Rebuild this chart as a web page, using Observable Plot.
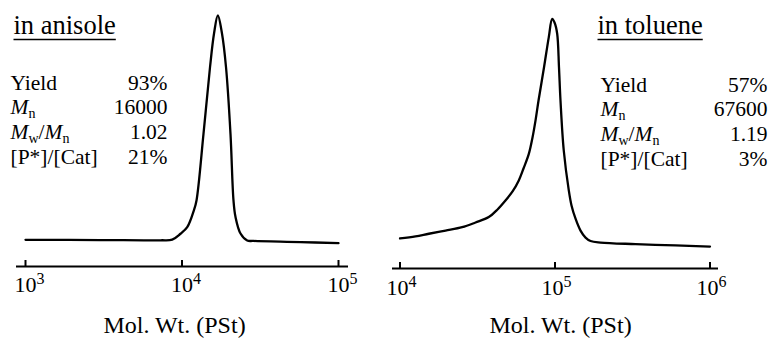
<!DOCTYPE html>
<html><head><meta charset="utf-8">
<script src="https://cdn.jsdelivr.net/npm/d3@7"></script>
<script src="https://cdn.jsdelivr.net/npm/@observablehq/plot@0.6"></script>
<style>
body{margin:0;background:#fff;}
#wrap{display:flex;width:770px;height:339px;overflow:hidden;}
svg{display:block;}
</style></head><body><div id="wrap"></div>
<script>
// ---- data ----
const anisoleMolWt = [1000, 3000, 7300, 8660, 9780, 10800, 11900, 12380, 13720, 15100, 16020, 16940, 18010, 19110, 20410, 21330, 21980, 23650, 26100, 28630, 57150, 100000];
const anisoleSignal = [0.003, 0.002, 0.001, 0.004, 0.030, 0.059, 0.133, 0.178, 0.474, 0.770, 0.920, 1.000, 0.920, 0.770, 0.474, 0.178, 0.104, 0.031, 0.000, -0.002, -0.007, -0.012];
const tolueneMolWt = [10000, 12590, 15350, 19670, 25190, 30700, 37400, 42580, 47940, 53230, 58400, 62630, 67780, 71600, 74850, 78300, 84960, 91200, 95900, 99300, 103300, 106100, 108500, 113900, 122800, 127800, 135500, 146100, 157400, 169600, 196800, 330700, 598700, 1000000];
const tolueneSignal = [0.009, 0.018, 0.030, 0.044, 0.059, 0.080, 0.104, 0.138, 0.178, 0.218, 0.267, 0.320, 0.385, 0.458, 0.533, 0.622, 0.770, 0.904, 0.985, 0.969, 0.919, 0.770, 0.622, 0.400, 0.222, 0.156, 0.098, 0.044, 0.013, -0.002, -0.009, -0.016, -0.022, -0.027];
const anisoleTicks = [1e3, 1e4, 1e5];
const tolueneTicks = [1e4, 1e5, 1e6];
const anisoleTitle = "in anisole";
const tolueneTitle = "in toluene";
const statLabels = ["Yield", "M_n", "M_w/M_n", "[P*]/[Cat]"];
const anisoleStats = ["93%", "16000", "1.02", "21%"];
const tolueneStats = ["57%", "67600", "1.19", "3%"];
const xLabel = "Mol. Wt. (PSt)";

// ---- layout ----
const W = 385, H = 339, TOP = 15;
const FONT = "Liberation Serif";
const ns = "http://www.w3.org/2000/svg";

function panel(cfg) {
  const data = cfg.molWt.map((m, i) => ({m, s: cfg.signal[i]}));
  const yMin = -(cfg.axisY - 240) / 225;
  const pxPerUnit = (cfg.axisY - TOP) / (1 - yMin);
  const tickLen = 6 / pxPerUnit;
  const T = {fontFamily: FONT, fill: "black"};
  const marks = [
    Plot.ruleY([yMin], {strokeWidth: 2}),
    Plot.ruleX(cfg.ticks, {x: d => d, y1: yMin, y2: yMin + tickLen, strokeWidth: 2}),
    Plot.line(data, {x: "m", y: "s", curve: "catmull-rom", strokeWidth: 2.3, stroke: "black"}),
    Plot.text(cfg.ticks, {...T, x: d => d, y: yMin, text: d => "10^" + Math.round(Math.log10(d)),
      dx: cfg.tickDx, dy: cfg.tickDy, lineAnchor: "bottom", textAnchor: "middle", fontSize: 22}),
    Plot.text([xLabel], {...T, text: d => d, frameAnchor: "bottom", dx: cfg.labelDx, dy: 332 - cfg.axisY,
      lineAnchor: "bottom", textAnchor: "middle", fontSize: 24}),
    Plot.text([cfg.title], {...T, text: d => d, frameAnchor: "top-left", dx: cfg.titleX - cfg.mL, dy: 33 - TOP,
      lineAnchor: "bottom", textAnchor: "start", fontSize: 26.5}),
    ...statLabels.map((s, i) => Plot.text([s], {...T, text: d => d, frameAnchor: "top-left",
      dx: cfg.statX - cfg.mL, dy: cfg.statY[i] - TOP, lineAnchor: "bottom", textAnchor: "start", fontSize: 21.5})),
    ...cfg.values.map((s, i) => Plot.text([s], {...T, text: d => d, frameAnchor: "top-left",
      dx: cfg.valueX - cfg.mL, dy: cfg.statY[i] - TOP, lineAnchor: "bottom", textAnchor: "end", fontSize: 21.5}))
  ];
  const svg = Plot.plot({
    width: W, height: H,
    marginTop: TOP, marginBottom: H - cfg.axisY, marginLeft: cfg.mL, marginRight: cfg.mR,
    style: {fontFamily: FONT, fontSize: "22px", color: "black", background: "white"},
    x: {type: "log", domain: cfg.domain, axis: null},
    y: {domain: [yMin, 1], axis: null},
    marks
  });
  svg.setAttribute("font-family", FONT);
  return svg;
}

function richify(el) {
  el.setAttribute("font-family", FONT);
  const s = el.textContent;
  if (!/[\^_]/.test(s)) return;
  el.textContent = "";
  let buf = "";
  const add = (t, attrs = {}) => {
    const ts = document.createElementNS(ns, "tspan");
    ts.textContent = t;
    ts.setAttribute("font-family", FONT);
    for (const k in attrs) ts.setAttribute(k, attrs[k]);
    el.appendChild(ts);
  };
  const flush = () => { if (buf) { add(buf); buf = ""; } };
  for (let i = 0; i < s.length; i++) {
    const c = s[i];
    if (c === "^") { flush(); add(s[++i], {"font-size": "16px", "baseline-shift": "8px"}); }
    else if (c === "_") { flush(); add(s[++i], {"font-size": "14px", "baseline-shift": "-4px"}); }
    else if (c === "M" && s[i + 1] === "_") { flush(); add("M", {"font-style": "italic"}); }
    else buf += c;
  }
  flush();
}

function underline(svg, title) {
  const t = Array.from(svg.querySelectorAll("text")).find(e => e.textContent === title);
  if (!t) return;
  const r = t.getBoundingClientRect(), sr = svg.getBoundingClientRect();
  const line = document.createElementNS(ns, "line");
  line.setAttribute("x1", r.left - sr.left);
  line.setAttribute("x2", r.right - sr.left);
  line.setAttribute("y1", 39.5);
  line.setAttribute("y2", 39.5);
  line.setAttribute("stroke", "black");
  line.setAttribute("stroke-width", 1.5);
  svg.appendChild(line);
}

const wrap = document.getElementById("wrap");
const left = panel({
  molWt: anisoleMolWt, signal: anisoleSignal, ticks: anisoleTicks, title: anisoleTitle, values: anisoleStats,
  axisY: 266, mL: 16, mR: 37,
  domain: [Math.pow(10, 3 - 9 / 156.5), Math.pow(10, 5 + 10 / 156.5)],
  tickDx: 4, tickDy: 25, labelDx: -8,
  titleX: 13, statX: 10, valueX: 167, statY: [89, 113, 138, 163]
});
const right = panel({
  molWt: tolueneMolWt, signal: tolueneSignal, ticks: tolueneTicks, title: tolueneTitle, values: tolueneStats,
  axisY: 268, mL: 7, mR: 52,
  domain: [Math.pow(10, 4 - 7.5 / 155), Math.pow(10, 6 + 8.5 / 155)],
  tickDx: 1.5, tickDy: 26, labelDx: 5,
  titleX: 212, statX: 215, valueX: 382, statY: [91, 115, 140, 165]
});
wrap.appendChild(left);
wrap.appendChild(right);
for (const [svg, title] of [[left, anisoleTitle], [right, tolueneTitle]]) {
  svg.querySelectorAll("text").forEach(richify);
  underline(svg, title);
}
</script>
</body></html>
